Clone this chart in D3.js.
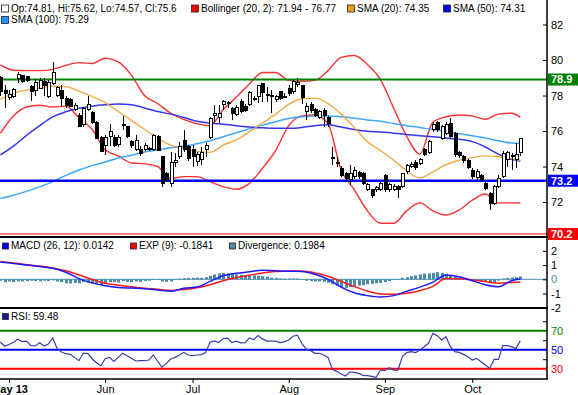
<!DOCTYPE html>
<html lang="en">
<head>
<meta charset="UTF-8">
<title>Price with Bollinger, SMA, MACD and RSI</title>
<script src="https://d3js.org/d3.v7.min.js"></script>
<style>
    body { margin: 0; background: #fff; }
    svg { display: block; font-family: "Liberation Sans", Arial, sans-serif; }
    .legend { font-size: 10px; fill: #000; }
    .axis text { font-size: 11px; fill: #000; }
    .axis .domain { display: none; }
    .axis line { stroke: #000; }
    .candle { shape-rendering: crispEdges; }
</style>
</head>
<body>
<svg id="chart"></svg>
<script>
// ---- data ----
const holidays = ["2013-05-27", "2013-07-04", "2013-09-02"];
const monthTicks = ["2013-05-01", "2013-06-03", "2013-07-01", "2013-08-01", "2013-09-03", "2013-10-01"];
const monthLabels = ["May 13", "Jun", "Jul", "Aug", "Sep", "Oct"];

const open = [79.0,78.3,77.9,77.95,78.97,79.1,79.08,78.5,78.3,78.4,78.8,77.95,78.7,78.0,78.3,77.85,77.75,77.2,76.9,76.35,
  77.2,77.05,76.5,75.65,75.2,75.7,75.65,75.25,76.35,76.25,75.4,74.95,74.95,74.95,75.0,74.95,75.7,74.55,73.6,73.05,
  74.2,74.55,75.45,75.1,74.93,74.27,74.37,74.93,75.64,76.9,76.77,77.47,77.58,77.28,76.95,77.65,77.37,77.5,77.8,77.93,
  78.69,78.04,78.02,77.75,78.23,77.95,78.4,78.22,78.6,78.54,77.09,77.52,77.22,76.77,77.18,76.77,74.48,74.2,73.9,73.62,
  73.28,73.43,73.65,73.62,72.68,72.68,72.68,72.68,73.48,72.68,72.7,72.85,72.86,73.7,73.99,74.22,74.18,74.93,74.78,76.06,
  76.47,75.6,75.85,76.43,75.87,74.78,74.55,74.31,73.8,73.38,73.47,73.05,72.49,71.92,72.86,73.43,74.37,74.6,74.4,74.81];
const high = [79.1,78.6,78.3,78.45,79.35,79.15,79.1,78.6,78.95,79.0,79.0,78.85,79.9,78.55,78.6,77.95,77.85,77.55,77.0,77.35,
  78.0,77.1,76.55,75.7,75.75,76.4,75.75,75.8,76.85,76.3,75.5,75.75,75.15,75.35,75.1,75.85,75.8,74.6,73.7,74.8,
  74.75,75.4,76.05,75.2,75.2,74.8,75.08,75.31,76.8,77.45,77.45,77.75,77.7,77.35,77.45,77.78,77.5,78.25,77.95,78.6,
  78.72,78.5,78.3,78.05,78.28,78.15,78.59,78.85,78.97,78.6,77.56,77.65,77.3,77.18,77.28,76.85,75.12,74.55,74.05,73.7,
  74.08,73.95,73.75,73.7,73.05,72.75,72.9,73.15,73.55,73.05,73.0,72.95,73.65,74.15,74.25,74.37,74.5,75.05,75.5,76.53,
  76.55,76.35,76.5,76.71,75.95,74.9,74.65,74.4,73.9,73.85,73.55,73.1,72.55,72.95,73.5,74.85,74.9,74.74,75.3,75.62];
const low = [78.0,77.3,77.75,77.85,78.7,78.7,78.75,77.7,78.0,78.4,77.95,77.85,78.6,77.9,77.4,77.3,77.35,77.1,76.2,76.2,
  77.1,76.4,75.55,74.8,74.65,75.15,75.1,75.1,76.05,75.6,75.05,74.85,74.6,74.85,74.85,74.85,74.85,72.85,73.15,72.85,
  74.0,74.45,74.8,74.3,74.0,74.05,74.09,74.55,75.55,76.5,76.43,77.18,77.28,76.62,76.85,77.0,77.05,77.4,77.7,77.55,
  77.65,77.66,77.03,77.65,77.72,77.85,78.0,78.1,78.5,77.5,76.62,77.0,76.78,76.7,76.25,76.2,74.08,74.0,73.43,73.15,
  72.96,73.3,73.3,72.95,72.6,72.25,72.55,72.6,72.55,72.58,72.6,72.2,72.8,73.6,73.9,73.8,74.1,74.6,74.7,75.95,
  75.95,75.5,75.75,75.55,74.55,74.5,74.2,73.85,73.3,73.2,73.1,72.7,71.55,71.85,72.8,73.35,73.99,73.8,73.9,74.57];
const close = [78.2,78.1,78.05,78.35,79.2,78.8,78.85,78.2,78.75,78.85,78.55,78.75,79.3,78.45,77.85,77.45,77.4,77.45,76.25,77.25,
  77.5,76.5,75.6,74.85,75.65,75.95,75.2,75.65,76.3,75.7,75.2,75.45,74.75,75.2,74.93,75.75,74.9,73.05,73.25,74.2,
  74.35,75.1,74.95,74.45,74.55,74.7,74.78,75.21,76.71,77.0,76.96,77.65,77.6,77.0,77.33,77.09,77.18,78.18,77.82,78.54,
  78.16,78.0,77.93,77.97,77.84,77.92,78.12,78.78,78.74,77.9,77.37,77.18,76.9,77.09,76.9,76.43,74.44,74.16,73.52,73.33,
  73.58,73.77,73.43,73.05,72.96,72.36,72.83,73.05,72.68,72.96,72.9,72.68,73.58,74.03,74.14,73.95,74.37,74.7,75.4,76.38,
  76.06,76.25,76.38,75.68,74.65,74.6,74.35,73.95,73.43,73.72,73.24,72.77,71.89,72.86,73.33,74.74,74.8,74.6,74.7,75.6];

// indicator lines, read every third trading day
const sampleDays = [0,3,6,9,12,15,18,21,24,27,30,33,36,39,42,45,48,51,54,57,60,63,66,69,72,75,78,81,84,87,90,93,96,99,102,105,108,111,114,117,119];
const bollUpper = [79.72,79.42,79.4,79.4,79.47,79.7,79.85,79.8,80.1,79.9,79.15,78.0,77.55,77.0,76.65,76.4,76.3,77.2,77.9,78.65,
  79.3,79.3,78.85,78.8,78.85,79.4,80.15,80.25,79.75,78.9,77.3,75.7,74.7,76.5,76.8,76.9,76.85,76.66,76.95,77.0,76.77];
const bollLower = [75.87,76.85,77.35,77.45,77.35,77.4,76.75,76.1,74.95,74.6,74.2,74.15,74.0,73.33,73.43,73.43,73.15,72.87,72.72,73.05,
  73.9,74.9,76.3,76.85,76.9,76.4,73.8,72.7,71.5,70.8,70.8,71.5,71.95,71.5,71.27,71.55,72.1,72.45,71.95,71.95,71.94];
const sma20 = [77.8,78.12,78.3,78.42,78.52,78.5,78.25,77.95,77.6,77.1,76.6,76.1,75.6,75.2,75.0,74.85,74.8,75.2,75.5,75.95,
  76.45,76.95,77.5,77.82,77.85,77.55,76.95,76.2,75.4,74.9,74.35,73.75,73.35,73.7,74.1,74.35,74.5,74.6,74.55,74.45,74.35];
const sma50 = [74.65,75.15,75.75,76.3,76.8,77.08,77.28,77.4,77.48,77.52,77.48,77.3,77.1,76.95,76.76,76.55,76.45,76.38,76.3,76.22,
  76.18,76.15,76.15,76.2,76.3,76.35,76.22,76.08,75.98,75.95,75.88,75.8,75.73,75.67,75.6,75.53,75.4,75.1,74.7,74.4,74.31];
const sma100 = [72.2,72.38,72.6,72.85,73.15,73.5,73.8,74.05,74.25,74.48,74.63,74.82,74.95,75.05,75.15,75.28,75.45,75.68,75.9,76.12,
  76.33,76.52,76.7,76.8,76.85,76.85,76.8,76.72,76.62,76.55,76.42,76.3,76.2,76.08,75.97,75.85,75.73,75.6,75.45,75.32,75.29];
const macd = [1.22,1.12,1.0,0.9,0.78,0.5,0.05,-0.25,-0.45,-0.57,-0.62,-0.67,-0.75,-0.85,-0.63,-0.55,-0.15,0.25,0.42,0.54,
  0.63,0.6,0.57,0.55,0.35,0.0,-0.55,-0.95,-1.15,-1.25,-1.15,-0.85,-0.55,-0.2,0.3,0.18,-0.1,-0.38,-0.52,-0.1,0.0142];
const signal = [1.25,1.15,1.02,0.93,0.8,0.6,0.3,0.0,-0.28,-0.42,-0.53,-0.63,-0.7,-0.78,-0.72,-0.6,-0.38,-0.1,0.12,0.28,
  0.45,0.55,0.58,0.58,0.45,0.22,-0.15,-0.5,-0.82,-1.03,-1.06,-0.98,-0.8,-0.5,0.05,0.03,-0.05,-0.15,-0.27,-0.22,-0.1841];

// daily values
const divergence = [-0.1,-0.2,-0.15,-0.2,-0.15,-0.15,-0.12,-0.1,-0.12,-0.15,-0.1,-0.12,-0.08,-0.15,-0.2,-0.28,-0.3,-0.25,-0.28,-0.2,
  -0.25,-0.3,-0.35,-0.4,-0.3,-0.2,-0.2,-0.22,-0.12,-0.18,-0.2,-0.15,-0.18,-0.12,-0.1,-0.05,-0.05,-0.15,-0.18,-0.15,
  -0.05,0.05,0.08,0.1,0.1,0.12,0.1,0.15,0.25,0.35,0.42,0.45,0.42,0.4,0.35,0.32,0.3,0.3,0.28,0.25,
  0.22,0.18,0.12,0.1,0.06,0.05,0.06,0.06,0.05,0.02,-0.1,-0.12,-0.15,-0.15,-0.18,-0.25,-0.35,-0.45,-0.55,-0.6,
  -0.55,-0.5,-0.45,-0.42,-0.35,-0.32,-0.28,-0.25,-0.2,-0.12,-0.05,0.02,0.1,0.15,0.22,0.28,0.35,0.4,0.42,0.45,
  0.5,0.45,0.38,0.3,0.2,0.12,0.05,0.02,-0.05,-0.1,-0.15,-0.2,-0.28,-0.25,-0.1,0.05,0.1,0.12,0.15,0.1984];
const rsi = [57.9,53.6,55.4,57.9,61.1,58.6,59.0,54.3,53.9,57.2,53.9,56.0,62.4,51.4,47.6,45.8,45.1,41.9,38.4,46.2,
  46.2,40.5,36.3,33.1,40.5,41.9,37.7,41.9,46.2,43.7,40.9,38.1,38.4,38.4,39.1,44.4,38.1,31.4,35.6,40.2,
  41.9,44.4,47.2,44.4,43.7,44.4,44.8,46.9,57.9,59.3,57.5,61.8,62.1,57.5,59.0,57.2,57.5,62.4,60.7,64.9,
  61.4,59.0,59.0,59.0,57.5,58.2,60.2,64.2,65.3,56.7,50.7,49.0,46.2,46.2,44.4,41.9,29.3,27.2,24.4,22.3,
  26.5,26.2,25.1,23.0,22.7,22.0,20.9,28.6,27.9,31.1,28.6,28.6,42.6,46.9,47.9,46.9,49.7,53.2,56.7,67.2,
  64.8,60.2,63.7,53.2,47.9,47.2,45.1,42.6,39.1,40.9,37.4,33.8,30.3,39.8,39.8,54.3,54.3,53.2,51.1,59.48];

const priceLevels = [78.9, 73.2, 70.2];
const rsiLevels = [70, 50, 30];

// ---- layout ----
const width = 578, height = 395;
const plotRight = 547;
const mainBottom = 237, macdBottom = 308, rsiBottom = 379;
const teal = "#4a8aaa";

const svg = d3.select("#chart").attr("width", width).attr("height", height);

const fmtDay = d3.timeFormat("%Y-%m-%d");
const tradingDays = d3.timeDay.range(new Date(2013, 3, 29), new Date(2013, 9, 17))
    .filter(d => d.getDay() % 6 !== 0 && !holidays.includes(fmtDay(d)))
    .map(fmtDay);
const n = tradingDays.length;

const x = d3.scaleLinear().domain([0, n - 1]).range([0.3, 520.3]);
const yPrice = d3.scaleLinear().domain([72, 80]).range([202, 60]);
const yMacd = d3.scaleLinear().domain([-1, 1]).range([293.5, 265.1]);
const yRsi = d3.scaleLinear().domain([30, 70]).range([368.7, 330.7]);

const defs = svg.append("defs");
defs.append("clipPath").attr("id", "clipMain")
    .append("rect").attr("x", 0).attr("y", 0).attr("width", plotRight).attr("height", mainBottom);
defs.append("clipPath").attr("id", "clipMacd")
    .append("rect").attr("x", 0).attr("y", mainBottom).attr("width", plotRight).attr("height", macdBottom - mainBottom);

// ---- main panel ----
const main = svg.append("g").attr("clip-path", "url(#clipMain)");

function sampled(values, y) {
    return d3.line()
        .x((d, i) => x(sampleDays[i]))
        .y(d => y(d))
        .curve(d3.curveMonotoneX)(values);
}

const priceLines = [
    { values: bollUpper, color: "#ff1a1a", w: 1.4 },
    { values: bollLower, color: "#ff1a1a", w: 1.4 },
    { values: sma100, color: "#2a9dff", w: 1.5 },
    { values: sma50, color: "#1f1ff0", w: 1.5 },
    { values: sma20, color: "#f2a033", w: 1.4 }
];
main.selectAll(".ind")
    .data(priceLines)
    .enter().append("path")
    .attr("class", "ind")
    .attr("d", d => sampled(d.values, yPrice))
    .attr("fill", "none")
    .attr("stroke", d => d.color)
    .attr("stroke-width", d => d.w)
    .attr("stroke-opacity", 0.9);

const levelColors = ["#008000", "#0000ff", "#ff0000"];
const levelWidths = [2, 2.6, 1];
main.selectAll(".level")
    .data(priceLevels)
    .enter().append("line")
    .attr("x1", 0).attr("x2", plotRight)
    .attr("y1", d => yPrice(d)).attr("y2", d => yPrice(d))
    .attr("stroke", (d, i) => levelColors[i])
    .attr("stroke-width", (d, i) => levelWidths[i]);

const candles = main.selectAll(".candle")
    .data(d3.range(n))
    .enter().append("g")
    .attr("class", "candle");

candles.append("line")
    .attr("x1", i => Math.round(x(i)) + 0.5)
    .attr("x2", i => Math.round(x(i)) + 0.5)
    .attr("y1", i => yPrice(high[i]))
    .attr("y2", i => yPrice(low[i]))
    .attr("stroke", "#000");

candles.append("rect")
    .attr("x", i => Math.round(x(i)) - 1)
    .attr("y", i => yPrice(Math.max(open[i], close[i])))
    .attr("width", 3)
    .attr("height", i => Math.max(1, Math.abs(yPrice(open[i]) - yPrice(close[i]))))
    .attr("fill", i => close[i] >= open[i] ? "#fff" : "#000")
    .attr("stroke", "#000");

// ---- MACD panel ----
const macdG = svg.append("g").attr("clip-path", "url(#clipMacd)");

macdG.append("line")
    .attr("x1", 0).attr("x2", plotRight)
    .attr("y1", yMacd(0)).attr("y2", yMacd(0))
    .attr("stroke", teal);

macdG.selectAll(".div")
    .data(divergence)
    .enter().append("rect")
    .attr("x", (d, i) => Math.round(x(i)) - 1)
    .attr("y", d => Math.min(yMacd(d), yMacd(0)))
    .attr("width", 3)
    .attr("height", d => Math.abs(yMacd(d) - yMacd(0)))
    .attr("fill", teal);

macdG.append("path")
    .attr("d", sampled(signal, yMacd))
    .attr("fill", "none").attr("stroke", "#ff1a1a").attr("stroke-width", 1.5);
macdG.append("path")
    .attr("d", sampled(macd, yMacd))
    .attr("fill", "none").attr("stroke", "#1a1aff").attr("stroke-width", 1.5);

// ---- RSI panel ----
const rsiColors = ["#008000", "#0000ff", "#ff0000"];
svg.selectAll(".rsiLevel")
    .data(rsiLevels)
    .enter().append("line")
    .attr("x1", 0).attr("x2", plotRight)
    .attr("y1", d => yRsi(d)).attr("y2", d => yRsi(d))
    .attr("stroke", (d, i) => rsiColors[i])
    .attr("stroke-width", 2);

svg.append("path")
    .attr("d", d3.line().x((d, i) => x(i)).y(d => yRsi(d))(rsi))
    .attr("fill", "none")
    .attr("stroke", "#3c3ca8")
    .attr("stroke-width", 1.2);

// ---- price label boxes ----
const boxes = svg.selectAll(".box")
    .data(priceLevels)
    .enter().append("g");
boxes.append("rect")
    .attr("x", plotRight + 1).attr("y", d => yPrice(d) - 6)
    .attr("width", 31).attr("height", 12)
    .attr("fill", (d, i) => levelColors[i]);
boxes.append("text")
    .attr("x", plotRight + 4).attr("y", d => yPrice(d))
    .attr("dy", "0.36em")
    .attr("fill", "#fff")
    .style("font-size", "11px")
    .style("font-weight", "bold")
    .text(d => d.toFixed(1));

// ---- panel borders and axis line ----
[[mainBottom, 2.2], [macdBottom, 2], [rsiBottom, 1.5]].forEach(([yy, w]) => {
    svg.append("line")
        .attr("x1", 0).attr("x2", plotRight + 1)
        .attr("y1", yy).attr("y2", yy)
        .attr("stroke", "#000").attr("stroke-width", w);
});
svg.append("line")
    .attr("x1", plotRight).attr("x2", plotRight)
    .attr("y1", 0).attr("y2", rsiBottom)
    .attr("stroke", "#000").attr("stroke-width", 1.5);

// ---- axes ----
svg.append("g")
    .attr("class", "axis")
    .attr("transform", `translate(${plotRight},0)`)
    .call(d3.axisRight(yPrice).tickValues([72, 74, 76, 78, 80, 82]).tickSize(-4).tickPadding(4).tickFormat(d => d));

svg.append("g")
    .attr("class", "axis")
    .attr("transform", `translate(${plotRight},0)`)
    .call(d3.axisRight(yMacd).tickValues([-2, -1, 0, 1, 2]).tickSize(-4).tickPadding(4).tickFormat(d => String(d)))
    .selectAll("text")
    .style("fill", d => d === 0 ? teal : "#000");

const rsiLabelColor = { 70: "#008000", 50: "#0000ff", 30: "#ff0000" };
svg.append("g")
    .attr("class", "axis")
    .attr("transform", `translate(${plotRight},0)`)
    .call(d3.axisRight(yRsi).tickValues([30, 40, 50, 60, 70, 80]).tickSize(-4).tickPadding(4)
        .tickFormat(d => rsiLabelColor[d] ? d : ""))
    .call(g => g.selectAll(".tick").filter(d => rsiLabelColor[d]).select("line").remove())
    .selectAll("text")
    .style("fill", d => rsiLabelColor[d] || "#000");

const xAxis = svg.append("g")
    .attr("class", "axis")
    .attr("transform", `translate(0,${rsiBottom})`)
    .call(d3.axisBottom(x)
        .tickValues(monthTicks.map(s => tradingDays.indexOf(s)))
        .tickFormat((d, i) => monthLabels[i])
        .tickSize(4).tickPadding(2));
xAxis.selectAll("text").style("font-weight", (d, i) => i === 0 ? "bold" : "normal");

// ---- legends ----
function legendItem(xx, yy, color, label, size) {
    const s = size || 7;
    svg.append("rect")
        .attr("x", xx + 0.5).attr("y", yy - s / 2 + 0.5)
        .attr("width", s).attr("height", s)
        .attr("fill", color).attr("stroke", "#222").attr("stroke-width", 0.8);
    svg.append("text")
        .attr("class", "legend")
        .attr("x", xx + s + 3).attr("y", yy)
        .attr("dy", "0.35em")
        .text(label);
}

const last = n - 1;
const si = sampleDays.length - 1;
legendItem(1, 8, "#fff", `Op:${open[last]}, Hi:${high[last]}, Lo:${low[last]}, Cl:${close[last]}`);
legendItem(191, 8, "#ff0000", `Bollinger (20, 2): ${bollLower[si]} - ${bollUpper[si]}`);
legendItem(347, 8, "#f09a1a", `SMA (20): ${sma20[si]}`);
legendItem(443, 8, "#0000ff", `SMA (50): ${sma50[si]}`);
legendItem(1, 19.5, "#1e90ff", `SMA (100): ${sma100[si]}`);

legendItem(2, 245.5, "#0000ff", `MACD (26, 12): ${macd[si]}`, 6);
legendItem(130, 245.5, "#ff0000", `EXP (9): ${signal[si]}`, 6);
legendItem(229, 245.5, teal, `Divergence: ${divergence[last]}`, 6);

legendItem(2, 316, "#1a1a8c", `RSI: ${rsi[last]}`, 6);
</script>
</body>
</html>
